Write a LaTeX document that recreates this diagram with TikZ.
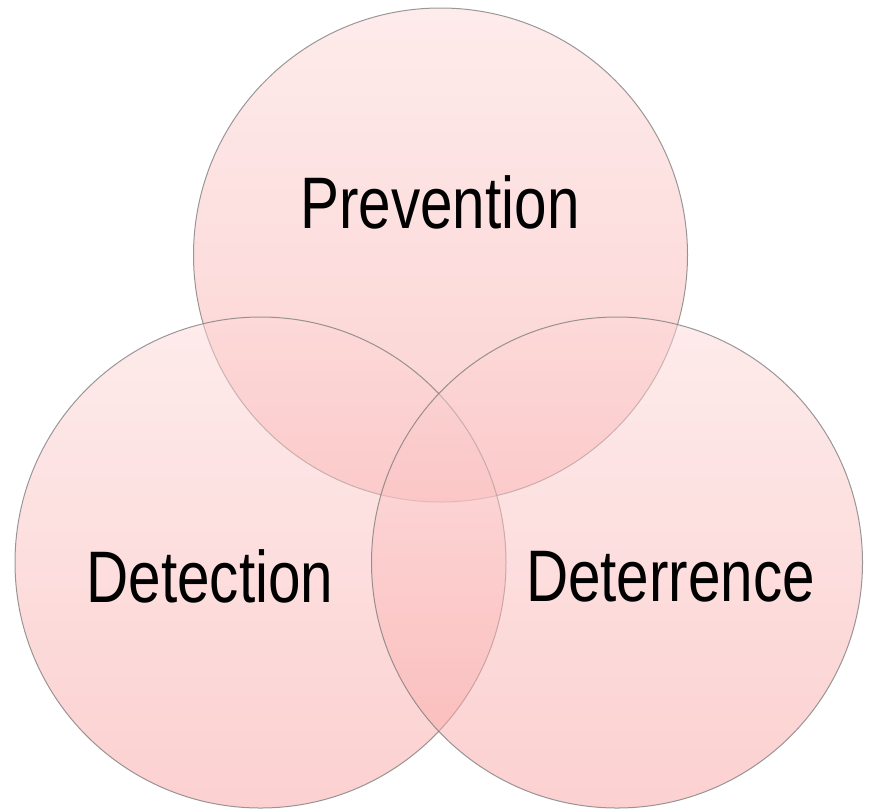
\documentclass[tikz,border=0pt]{standalone}
\usepackage{fontspec}
\setmainfont[FakeStretch=0.8]{Liberation Sans}
\usepackage{tikz}
\usepackage{xcolor}
\definecolor{pinktop}{RGB}{253,216,216}
\definecolor{pinkbot}{RGB}{249,162,162}
\definecolor{ringgray}{RGB}{120,120,120}

\tikzset{
  ring/.style={circle,inner sep=0pt,outer sep=0pt,minimum size=#1,
    top color=pinktop,bottom color=pinkbot,fill opacity=0.5,
    draw=ringgray,draw opacity=0.75,line width=1pt},
  word/.style={anchor=base,font=\fontsize{73}{80}\selectfont}
}

\begin{document}
\begin{tikzpicture}[x=1pt,y=-1pt]
  \useasboundingbox (0,0) rectangle (872,809);

  % the three rings
  \node[ring=494] (prev) at (440.5,255) {};
  \node[ring=491] (detect) at (260.5,562.5) {};
  \node[ring=491] (deter) at (617,562.5) {};

  % labels
  \node[word] (prevtxt) at (440,228) {Prevention};
  \node[word] (detecttxt) at (210,602) {Detection};
  \node[word] (detertxt) at (670.5,601) {Deterrence};
\end{tikzpicture}
\end{document}
